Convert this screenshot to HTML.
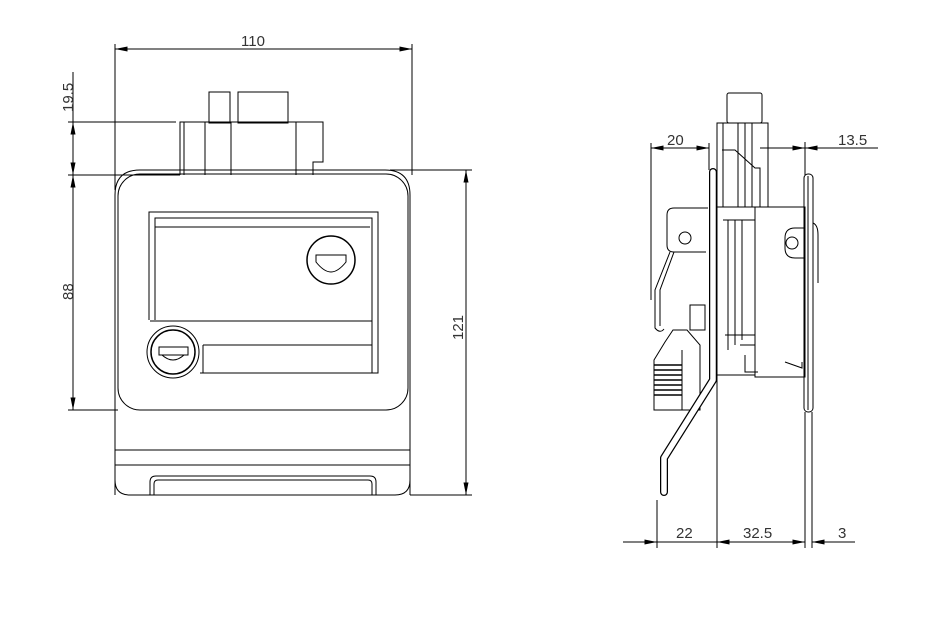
<!DOCTYPE html>
<html><head><style>html,body{margin:0;padding:0;background:#fff}svg{display:block}</style></head><body>
<svg width="946" height="625" viewBox="0 0 946 625" xmlns="http://www.w3.org/2000/svg" font-family="Liberation Sans, sans-serif">
<defs>
<marker id="a" viewBox="0 0 10 4" refX="10" refY="2" markerWidth="16" markerHeight="5" markerUnits="userSpaceOnUse" orient="auto-start-reverse"><path d="M0,0 L10,2 L0,4z" fill="#000"/></marker>
</defs>
<g stroke="#000" stroke-width="1" fill="none">
<line x1="115" y1="44" x2="115" y2="190"/>
<line x1="412" y1="44" x2="412" y2="175"/>
<line x1="115" y1="49" x2="412" y2="49" marker-start="url(#a)" marker-end="url(#a)"/>
<line x1="68" y1="122" x2="176" y2="122"/>
<line x1="68" y1="175" x2="180" y2="175"/>
<line x1="68" y1="410" x2="118" y2="410"/>
<line x1="73" y1="72" x2="73" y2="122"/>
<line x1="73" y1="122" x2="73" y2="175" marker-start="url(#a)" marker-end="url(#a)"/>
<line x1="73" y1="175" x2="73" y2="410" marker-start="url(#a)" marker-end="url(#a)"/>
<line x1="390" y1="170" x2="472" y2="170"/>
<line x1="410" y1="495" x2="472" y2="495"/>
<line x1="466" y1="170" x2="466" y2="495" marker-start="url(#a)" marker-end="url(#a)"/>
<rect x="209" y="92" width="21" height="31"/>
<rect x="238" y="92" width="50" height="31"/>
<path d="M180 175 V122 H323 V162 H313 V175"/>
<line x1="184" y1="122" x2="184" y2="175"/>
<line x1="205" y1="122" x2="205" y2="175"/>
<line x1="231" y1="122" x2="231" y2="175"/>
<line x1="296" y1="122" x2="296" y2="175"/>
<path d="M115 495 V195 Q115 170 140 170 H385 Q410 170 410 195 V495"/>
<rect x="118" y="174" width="290" height="236" rx="22"/>
<path d="M115 450 H410 M115 465 H410"/>
<path d="M115 480 Q115 495 130 495 H395 Q410 495 410 480"/>
<path d="M150 495 V482 Q150 476 156 476 H370 Q376 476 376 482 V495"/>
<path d="M154 495 V484 Q154 480 158 480 H368 Q372 480 372 484 V495"/>
<path d="M149 320 V212 H378 V373 H200"/>
<path d="M155 320 V218 H372 V373"/>
<line x1="155" y1="227" x2="370" y2="227"/>
<line x1="150" y1="321" x2="372" y2="321"/>
<line x1="203" y1="345" x2="372" y2="345"/>
<line x1="203" y1="345" x2="203" y2="373"/>
<circle cx="331" cy="260" r="24" stroke-width="1.5"/>
<path d="M316 255 H346 V262 Q338 272 331 272 Q324 272 316 262 Z"/>
<circle cx="173" cy="352" r="26"/>
<circle cx="173" cy="352" r="22" stroke-width="1.5"/>
<path d="M159 347 H188 V355 H159 Z M162 355 Q173 365 184 355"/>
<line x1="651" y1="143" x2="651" y2="300"/>
<line x1="709" y1="143" x2="709" y2="170"/>
<line x1="651" y1="148" x2="709" y2="148" marker-start="url(#a)" marker-end="url(#a)"/>
<line x1="760" y1="148" x2="805" y2="148" marker-end="url(#a)"/>
<line x1="805" y1="148" x2="878" y2="148" marker-start="url(#a)"/>
<line x1="805" y1="142" x2="805" y2="175"/>
<line x1="657" y1="500" x2="657" y2="548"/>
<line x1="717" y1="375" x2="717" y2="548"/>
<line x1="805" y1="412" x2="805" y2="548"/>
<line x1="812" y1="412" x2="812" y2="548"/>
<line x1="623" y1="542" x2="657" y2="542" marker-end="url(#a)"/>
<line x1="657" y1="542" x2="717" y2="542"/>
<line x1="717" y1="542" x2="805" y2="542" marker-start="url(#a)" marker-end="url(#a)"/>
<line x1="812" y1="542" x2="855" y2="542" marker-start="url(#a)"/>
<rect x="727" y="93" width="35" height="30" rx="2"/>
<rect x="717" y="123" width="51" height="84"/>
<path d="M723 123 V207 M738 123 V207 M745 123 V207 M752 123 V207"/>
<path d="M722 150 H735 L755 168 H760 V207"/>
<rect x="804" y="174" width="9" height="238" rx="4"/>
<line x1="808" y1="176" x2="808" y2="410"/>
<path d="M813 223 Q818 225 818 235 V283"/>
<rect x="755" y="207" width="50" height="170"/>
<path d="M717 207 V375 H755"/>
<path d="M723 220 H755 M728 220 V350 M735 220 V345 M742 220 V340"/>
<path d="M725 335 H755 V377 M740 345 H755 M745 355 V372 H758"/>
<path d="M785 362 L802 368 L802 362"/>
<path d="M785 238 Q785 228 795 228 H804 V258 H795 Q785 258 785 248 Z"/>
<circle cx="792" cy="243" r="6"/>
<path d="M708 208 H674 Q667 208 667 215 V245 Q667 252 674 252 H706"/>
<circle cx="685" cy="238" r="6"/>
<path d="M670 252 L655 290 V328 Q660 334 664 329"/>
<path d="M674 252 L660 290 V326"/>
<path d="M690 305 H705 V330 H690 Z"/>
<path d="M673 330 L687 330 L700 345 V410 H654 V360 L665 342 Z"/>
<path d="M654 365 H682 M654 370 H682 M654 375 H682 M654 380 H682 M654 385 H682 M654 390 H682 M654 395 H682" stroke-width="1.4"/>
<line x1="682" y1="350" x2="682" y2="410"/>
</g>
<path d="M713 172 V380 L664 458 V492" fill="none" stroke="#000" stroke-width="8" stroke-linejoin="round" stroke-linecap="round"/>
<path d="M713 172 V380 L664 458 V492" fill="none" stroke="#fff" stroke-width="5.5" stroke-linejoin="round" stroke-linecap="round"/>
<g fill="#333" font-size="15">
<text x="241" y="46">110</text>
<text transform="translate(73,112) rotate(-90)">19.5</text>
<text transform="translate(73,300) rotate(-90)">88</text>
<text transform="translate(463,340) rotate(-90)">121</text>
<text x="667" y="145">20</text>
<text x="838" y="145">13.5</text>
<text x="676" y="538">22</text>
<text x="743" y="538">32.5</text>
<text x="838" y="538">3</text>
</g>
</svg>
</body></html>
